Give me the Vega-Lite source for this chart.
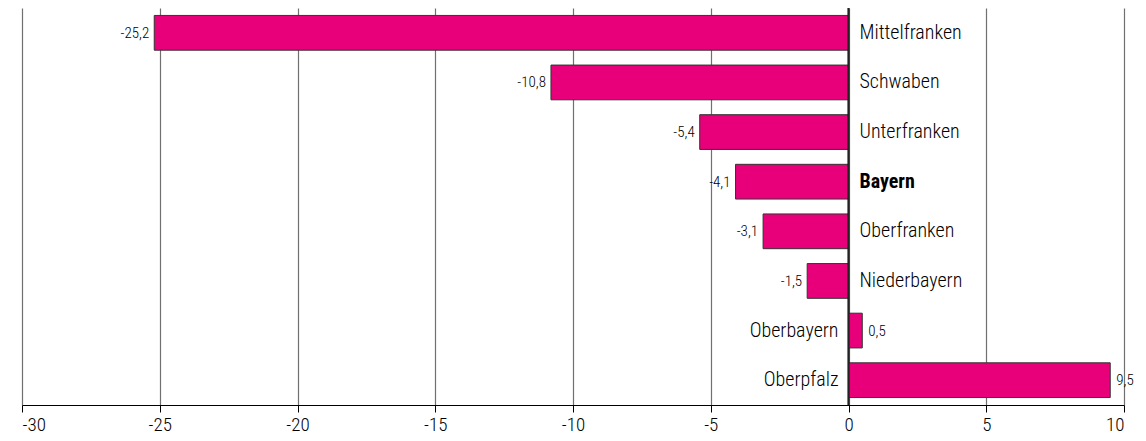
{
  "$schema": "https://vega.github.io/schema/vega-lite/v6.json",
  "width": 1102,
  "height": 397,
  "autosize": "none",
  "padding": {"left": 22, "top": 8, "right": 22, "bottom": 36},
  "background": "white",
  "config": {
    "view": {"stroke": null},
    "font": "Roboto Condensed, DejaVu Sans Condensed, sans-serif",
    "locale": {
      "number": {"decimal": ",", "thousands": ".", "grouping": [3], "currency": ["", " €"], "minus": "-"}
    }
  },
  "data": {
    "values": [
      {"region": "Mittelfranken", "value": -25.2},
      {"region": "Schwaben", "value": -10.8},
      {"region": "Unterfranken", "value": -5.4},
      {"region": "Bayern", "value": -4.1},
      {"region": "Oberfranken", "value": -3.1},
      {"region": "Niederbayern", "value": -1.5},
      {"region": "Oberbayern", "value": 0.5},
      {"region": "Oberpfalz", "value": 9.5}
    ]
  },
  "encoding": {
    "y": {
      "field": "region",
      "type": "nominal",
      "sort": null,
      "axis": null,
      "scale": {"paddingInner": 0.3, "paddingOuter": 0.15}
    }
  },
  "layer": [
    {
      "mark": {"type": "bar", "color": "#E8007A", "stroke": "#333333", "strokeWidth": 1},
      "encoding": {
        "x": {
          "field": "value",
          "type": "quantitative",
          "scale": {"domain": [-30, 10], "nice": false},
          "axis": {
            "values": [-30, -25, -20, -15, -10, -5, 0, 5, 10],
            "format": "d",
            "title": null,
            "grid": true,
            "gridColor": "#707070",
            "gridWidth": 1.2,
            "domainColor": "#000000",
            "domainWidth": 1.2,
            "tickColor": "#000000",
            "tickSize": 7,
            "labelFontSize": 19,
            "labelFontWeight": 300,
            "labelColor": "#000000",
            "labelPadding": 3
          }
        }
      }
    },
    {
      "mark": {"type": "rule", "color": "#222222", "strokeWidth": 1.2},
      "encoding": {"x": {"datum": 0, "type": "quantitative"}, "y": null}
    },
    {
      "transform": [{"filter": "datum.value < 0"}],
      "mark": {"type": "text", "align": "right", "dx": -5, "fontSize": 15, "fontWeight": 300, "color": "#000000"},
      "encoding": {
        "x": {"field": "value", "type": "quantitative"},
        "text": {"field": "value", "type": "quantitative", "format": ".1f"}
      }
    },
    {
      "transform": [{"filter": "datum.value >= 0"}],
      "mark": {"type": "text", "align": "left", "dx": 6, "fontSize": 15, "fontWeight": 300, "color": "#000000"},
      "encoding": {
        "x": {"field": "value", "type": "quantitative"},
        "text": {"field": "value", "type": "quantitative", "format": ".1f"}
      }
    },
    {
      "transform": [{"filter": "datum.value < 0"}],
      "mark": {
        "type": "text",
        "align": "left",
        "dx": 11,
        "fontSize": 20,
        "color": "#000000",
        "fontWeight": {"expr": "datum.region === 'Bayern' ? 'bold' : 300"}
      },
      "encoding": {
        "x": {"datum": 0, "type": "quantitative"},
        "text": {"field": "region"}
      }
    },
    {
      "transform": [{"filter": "datum.value >= 0"}],
      "mark": {"type": "text", "align": "right", "dx": -10, "fontSize": 20, "fontWeight": 300, "color": "#000000"},
      "encoding": {
        "x": {"datum": 0, "type": "quantitative"},
        "text": {"field": "region"}
      }
    }
  ]
}
